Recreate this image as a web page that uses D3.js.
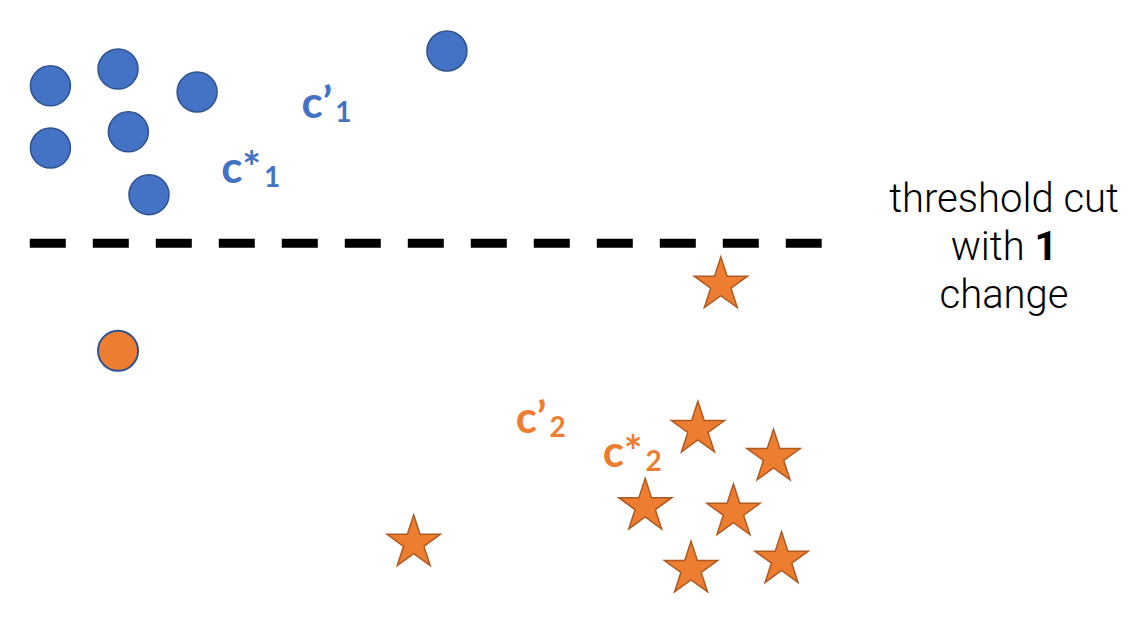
<!DOCTYPE html>
<html>
<head>
<meta charset="utf-8">
<script src="https://cdn.jsdelivr.net/npm/d3@7"></script>
<style>
  html, body { margin: 0; padding: 0; background: #fff; }
  svg { display: block; }
</style>
</head>
<body>
<svg id="chart"></svg>
<script>
// points in a 0..100 feature space (x right, y up)
const blueCircles = [
  [4.4, 86.2], [10.3, 88.9], [17.2, 85.2], [11.2, 78.8],
  [4.4, 76.2], [13.0, 68.7], [39.0, 91.8]
];
const orangeCircles = [[10.3, 43.6]];
const orangeStars = [
  [62.9, 54.2], [60.9, 31.0], [67.5, 26.5], [56.3, 18.6],
  [64.0, 17.7], [60.3, 8.5], [68.2, 10.0], [36.1, 12.7]
];
const threshold = 60.9;
const thresholdSpan = [2.6, 71.7];
const centroidLabels = [
  { mark: "’", sub: "1", x: 26.3, y: 81.0, group: "blue" },
  { mark: "*", sub: "1", x: 19.3, y: 70.6, group: "blue" },
  { mark: "’", sub: "2", x: 45.0, y: 30.4, group: "orange" },
  { mark: "*", sub: "2", x: 52.6, y: 24.9, group: "orange" }
];
const noteLines = ["threshold cut", "with ", "change"];

const width = 1146, height = 622;
const colors = { blue: "#4472C4", orange: "#ED7D31" };

const svg = d3.select("#chart").attr("width", width).attr("height", height);

const x = d3.scaleLinear().domain([0, 100]).range([0, width]);
const y = d3.scaleLinear().domain([0, 100]).range([height, 0]);

// threshold line
svg.append("line")
  .attr("x1", x(thresholdSpan[0])).attr("x2", x(thresholdSpan[1]))
  .attr("y1", y(threshold)).attr("y2", y(threshold))
  .attr("stroke", "#000").attr("stroke-width", 9)
  .attr("stroke-dasharray", "36 27");

// circles
svg.selectAll(".blue").data(blueCircles).enter().append("circle")
  .attr("cx", d => x(d[0])).attr("cy", d => y(d[1])).attr("r", 20)
  .attr("fill", colors.blue).attr("stroke", "#2F528F").attr("stroke-width", 1.5);

svg.selectAll(".orc").data(orangeCircles).enter().append("circle")
  .attr("cx", d => x(d[0])).attr("cy", d => y(d[1])).attr("r", 20)
  .attr("fill", colors.orange).attr("stroke", "#2F528F").attr("stroke-width", 2);

// stars
const star = d3.symbol().type(d3.symbolStar).size(28 * 28 / 0.8908130915292852);
svg.selectAll(".star").data(orangeStars).enter().append("path")
  .attr("d", star)
  .attr("transform", d => `translate(${x(d[0])},${y(d[1])})`)
  .attr("fill", colors.orange).attr("stroke", "#AE5A21").attr("stroke-width", 1.5)
  .attr("stroke-linejoin", "miter");

// centroid labels
const lab = svg.selectAll(".lab").data(centroidLabels).enter().append("text")
  .attr("x", d => x(d.x)).attr("y", d => y(d.y))
  .attr("fill", d => colors[d.group])
  .style("font-family", "Lato, 'Open Sans', sans-serif")
  .style("font-weight", 700)
  .style("font-size", "44px");
lab.append("tspan").text("c");
lab.append("tspan").text(d => d.mark);
lab.append("tspan").text(d => d.sub)
  .attr("dx", 3).attr("dy", 4).style("font-size", "28px");

// note on the right
const note = svg.append("text")
  .attr("x", 1004).attr("y", 212)
  .attr("text-anchor", "middle")
  .attr("fill", "#000")
  .style("font-family", "Roboto, 'Liberation Sans', sans-serif")
  .style("font-weight", 300)
  .style("font-size", "40px");
note.append("tspan").attr("x", 1004).text(noteLines[0]);
note.append("tspan").attr("x", 1004).attr("dy", 48).text(noteLines[1]);
note.append("tspan").style("font-weight", 700).text("1");
note.append("tspan").attr("x", 1004).attr("dy", 48).text(noteLines[2]);
</script>
</body>
</html>
